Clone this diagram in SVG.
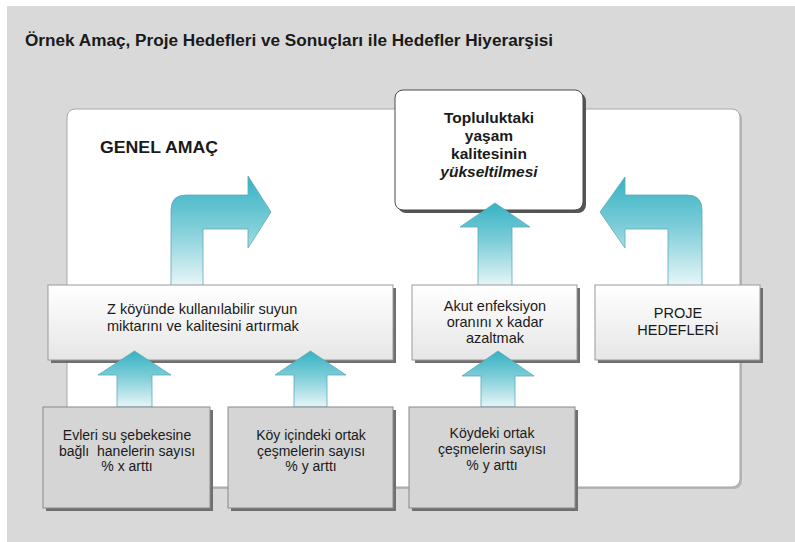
<svg xmlns="http://www.w3.org/2000/svg" width="795" height="542" viewBox="0 0 795 542">
<defs>
<linearGradient id="arrowGrad" x1="0" y1="0" x2="0" y2="1">
<stop offset="0" stop-color="#36b2c3"/>
<stop offset="0.45" stop-color="#7ccdd8"/>
<stop offset="1" stop-color="#e8f6f8"/>
</linearGradient>
<linearGradient id="boxGrad" x1="0" y1="0" x2="0" y2="1">
<stop offset="0" stop-color="#ffffff"/>
<stop offset="1" stop-color="#e6e6e6"/>
</linearGradient>
</defs>
<style>
.t{font-family:"Liberation Sans",Arial,sans-serif;fill:#1a1a1a}
.title{font-size:16px;font-weight:bold}
.lbl{font-size:14.5px}
.sm{font-size:14px}
.c{text-anchor:middle}
.g{font-size:15.5px;font-weight:bold}
.arrow{fill:url(#arrowGrad);stroke:#5aaab6;stroke-width:0.8}
.shadow{fill:#6f6f6f}
.box2{fill:url(#boxGrad);stroke:#9a9a9a;stroke-width:1}
.box3{fill:#d5d5d5;stroke:#8a8a8a;stroke-width:1}
</style>
<rect x="0" y="0" width="795" height="542" fill="#ffffff"/>
<rect x="7" y="6" width="788" height="536" fill="#d9d9d9"/>
<text class="t title" x="25" y="46" textLength="528" lengthAdjust="spacingAndGlyphs">Örnek Amaç, Proje Hedefleri ve Sonuçları ile Hedefler Hiyerarşisi</text>

<g id="panel">
<rect x="69" y="111" width="673" height="378" rx="8" fill="#b5b5b5"/>
<rect x="67" y="109" width="673" height="378" rx="8" fill="#ffffff" stroke="#a8a8a8" stroke-width="1"/>
<text class="t" x="100" y="153" style="font-size:16px;font-weight:bold" textLength="118" lengthAdjust="spacingAndGlyphs">GENEL AMAÇ</text>
</g>

<g id="goal">
<rect x="398" y="93" width="188" height="120" rx="8" fill="#555555"/>
<rect x="395" y="90" width="188" height="120" rx="8" fill="#ffffff" stroke="#4a4a4a" stroke-width="1"/>
<text class="t c g" x="489" y="123">Topluluktaki</text>
<text class="t c g" x="489" y="141">yaşam</text>
<text class="t c g" x="489" y="159">kalitesinin</text>
<text class="t c g" x="489" y="177" style="font-style:italic">yükseltilmesi</text>
</g>

<g id="connectors">
<path class="arrow" d="M171,286 L171,210 Q171,195 186,195 L248,195 L248,176 L271,212 L248,248 L248,229 L203,229 L203,286 Z"/>
<path class="arrow" d="M702,286 L702,210 Q702,195 687,195 L625,195 L625,177 L600,212 L625,248 L625,229 L668,229 L668,286 Z"/>
<path class="arrow" d="M478,286 L478,227 L460,227 L495,203 L530,227 L512,227 L512,286 Z"/>
</g>

<g id="objective1">
<rect x="51" y="288" width="345" height="75" class="shadow"/>
<rect x="48" y="285" width="345" height="75" class="box2"/>
<text class="t lbl" x="107" y="314">Z köyünde kullanılabilir suyun</text>
<text class="t lbl" x="107" y="331">miktarını ve kalitesini artırmak</text>
</g>

<g id="objective2">
<rect x="415" y="288" width="165" height="75" class="shadow"/>
<rect x="412" y="285" width="165" height="75" class="box2"/>
<text class="t lbl c" x="495" y="311">Akut enfeksiyon</text>
<text class="t lbl c" x="495" y="327">oranını x kadar</text>
<text class="t lbl c" x="495" y="343">azaltmak</text>
</g>

<g id="projectGoals">
<rect x="598" y="288" width="165" height="75" class="shadow"/>
<rect x="595" y="285" width="165" height="75" class="box2"/>
<text class="t lbl c" x="678" y="318">PROJE</text>
<text class="t lbl c" x="678" y="335">HEDEFLERİ</text>
</g>

<g id="connectors2">
<path class="arrow" d="M117,407 L117,375 L98,375 L134.5,351 L171,375 L152,375 L152,407 Z"/>
<path class="arrow" d="M294,407 L294,375 L275,375 L310.5,351 L346,375 L327,375 L327,407 Z"/>
<path class="arrow" d="M481,407 L481,376 L462,376 L498,351 L534,376 L515,376 L515,407 Z"/>
</g>

<g id="result1">
<rect x="46" y="410" width="167" height="101" class="shadow"/>
<rect x="43" y="407" width="167" height="101" class="box3"/>
<text class="t sm c" x="127" y="440">Evleri su şebekesine</text>
<text class="t sm c" x="127" y="456" style="white-space:pre">bağlı  hanelerin sayısı</text>
<text class="t sm c" x="127" y="471">% x arttı</text>
</g>

<g id="result2">
<rect x="231" y="410" width="165" height="101" class="shadow"/>
<rect x="228" y="407" width="165" height="101" class="box3"/>
<text class="t sm c" x="311" y="440">Köy içindeki ortak</text>
<text class="t sm c" x="311" y="456">çeşmelerin sayısı</text>
<text class="t sm c" x="311" y="471">% y arttı</text>
</g>

<g id="result3">
<rect x="412" y="410" width="166" height="101" class="shadow"/>
<rect x="409" y="407" width="166" height="101" class="box3"/>
<text class="t sm c" x="492" y="438">Köydeki ortak</text>
<text class="t sm c" x="492" y="454">çeşmelerin sayısı</text>
<text class="t sm c" x="492" y="470">% y arttı</text>
</g>
</svg>
